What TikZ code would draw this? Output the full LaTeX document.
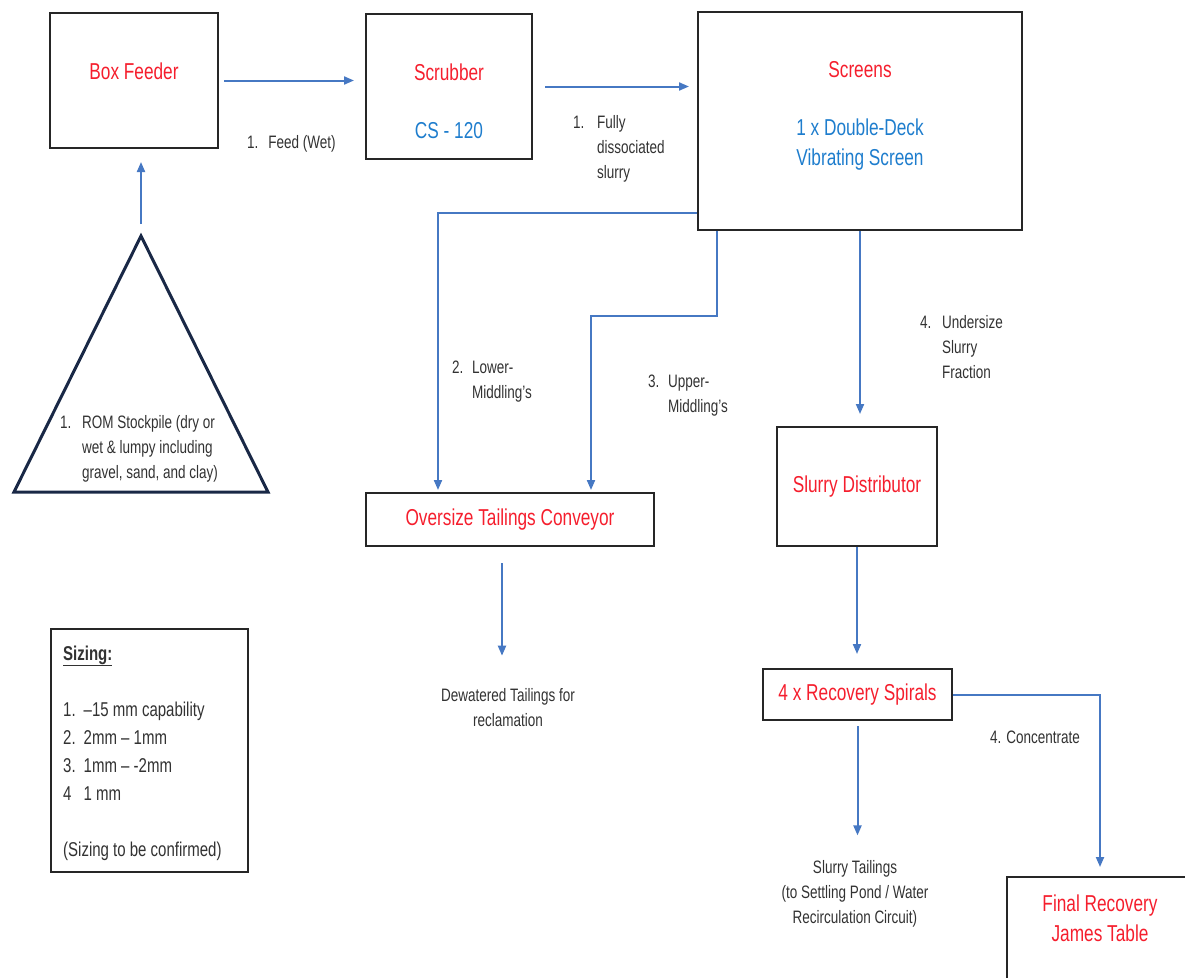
\documentclass[tikz,border=0pt]{standalone}
\usepackage{fontspec}
\setmainfont{Liberation Sans}[FakeStretch=0.75]
\usepackage{tikz}
\usetikzlibrary{positioning,arrows.meta,calc}
\definecolor{FlowBlue}{RGB}{70,120,195}
\definecolor{TitleRed}{RGB}{245,30,45}
\definecolor{SubBlue}{RGB}{30,125,205}
\definecolor{LabelGray}{RGB}{50,50,50}
\definecolor{PileNavy}{RGB}{25,40,70}
\tikzset{
  unitbox/.style={rectangle, draw=black!85, line width=2pt, inner sep=0pt},
  ttl/.style={text=TitleRed, font=\fontsize{23}{30}\selectfont, align=center},
  subttl/.style={text=SubBlue, font=\fontsize{23}{30}\selectfont, align=center},
  lbl/.style={text=LabelGray, font=\fontsize{18}{25}\selectfont, align=left, inner sep=0pt},
  pile/.style={draw=PileNavy, line width=3pt, line join=miter},
  flow/.style={-{Triangle[length=10pt,width=8pt]}, line width=2pt, draw=FlowBlue}
}

\begin{document}
\begin{tikzpicture}[x=1pt, y=-1pt]
  \useasboundingbox (0,0) rectangle (1185,977);
  % units
  \node[unitbox, minimum width=168pt, minimum height=135pt] (feeder) at (134,80.5) {};
  \node[ttl] (feeder-t) at (134,71) {Box Feeder};
  \node[unitbox, minimum width=166pt, minimum height=145pt] (scrub) at (449,86.5) {};
  \node[ttl] (scrub-t) at (449,72) {Scrubber};
  \node[subttl] (scrub-s) at (449,131) {CS - 120};
  \node[unitbox, minimum width=324pt, minimum height=218pt] (screens) at (860,121) {};
  \node[ttl] (screens-t) at (860,70) {Screens};
  \node[subttl] (screens-s) at (860,145) {1 x Double-Deck\\Vibrating Screen};
  \node[unitbox, ttl, minimum width=288pt, minimum height=53pt] (conveyor) at (510,519.5) {Oversize Tailings Conveyor};
  \node[unitbox, ttl, minimum width=160pt, minimum height=119pt] (distrib) at (857,486.5) {Slurry Distributor};
  \node[unitbox, ttl, minimum width=189pt, minimum height=51pt] (spirals) at (857.5,694.5) {4 x Recovery Spirals};
  \node[unitbox, minimum width=203pt, minimum height=123pt] (final) at (1108.5,938.5) {};
  \node[ttl] (final-t) at (1100,918) {Final Recovery\\James Table};

  % stockpile
  \coordinate (pile-top) at (141,236);
  \coordinate (pile-right) at (268,492);
  \coordinate (pile-left) at (14,492);
  \draw[pile] (pile-top) -- (pile-right) -- (pile-left) -- cycle;
  \node[lbl, anchor=base west] (pile-t) at (60,428) {\begin{tabular}[t]{@{}l@{\hspace{10.7pt}}l@{}}1. & ROM Stockpile (dry or\\ & wet \& lumpy including\\ & gravel, sand, and clay)\end{tabular}};

  % sizing
  \node[unitbox, minimum width=197pt, minimum height=243pt] (sizing) at (149.5,750.5) {};
  \node[lbl, font=\fontsize{20}{28}\selectfont, anchor=base west] (sizing-t) at (63,660) {\begin{tabular}[t]{@{}l@{\hspace{8pt}}l@{}}
    \multicolumn{2}{@{}l}{\textbf{\underline{Sizing:}}}\\
    \\
    1. & --15 mm capability\\
    2. & 2mm -- 1mm\\
    3. & 1mm -- -2mm\\
    4 & 1 mm\\
    \\
    \multicolumn{2}{@{}l}{(Sizing to be confirmed)}
  \end{tabular}};

  % outlets
  \node[lbl, align=center] (dewater) at (508,708) {Dewatered Tailings for\\reclamation};
  \node[lbl, align=center] (tailings) at (855,894) {Slurry Tailings\\(to Settling Pond / Water\\Recirculation Circuit)};

  % flow labels
  \node[lbl, anchor=base west] (l-feed) at (247,148) {1.\hspace{10pt}Feed (Wet)};
  \node[lbl, anchor=base west] (l-slurry) at (573,128) {\begin{tabular}[t]{@{}l@{\hspace{12.7pt}}l@{}}1. & Fully\\ & dissociated\\ & slurry\end{tabular}};
  \node[lbl, anchor=base west] (l-lower) at (452,373) {\begin{tabular}[t]{@{}l@{\hspace{8.7pt}}l@{}}2. & Lower-\\ & Middling's\end{tabular}};
  \node[lbl, anchor=base west] (l-upper) at (648,387) {\begin{tabular}[t]{@{}l@{\hspace{8.7pt}}l@{}}3. & Upper-\\ & Middling's\end{tabular}};
  \node[lbl, anchor=base west] (l-under) at (920,328) {\begin{tabular}[t]{@{}l@{\hspace{10.7pt}}l@{}}4. & Undersize\\ & Slurry\\ & Fraction\end{tabular}};
  \node[lbl, anchor=base west] (l-conc) at (990,743) {4. Concentrate};

  % connectors
  \draw[flow, shorten >=13pt] ([yshift=12pt]pile-top) -- (pile-top |- feeder.south);
  \draw[flow, shorten <=5pt, shorten >=11pt] (feeder.east) -- (scrub.west |- feeder.east);
  \draw[flow, shorten <=12pt, shorten >=8pt] (scrub.east) -- (screens.west |- scrub.east);
  \draw[flow, shorten >=2pt] ([yshift=18pt]screens.south west) -| ([xshift=-72pt]conveyor.north);
  \draw[flow, shorten >=2pt] ([xshift=20pt]screens.south west) -- ++(0,85) -| ([xshift=81pt]conveyor.north);
  \draw[flow, shorten >=12pt] (screens.south) -- (screens.south |- distrib.north);
  \draw[flow, shorten <=16pt, shorten >=33pt] ([xshift=-8pt]conveyor.south) -- ([xshift=-8pt]conveyor.south |- dewater.north);
  \draw[flow, shorten >=14pt] (distrib.south) -- (distrib.south |- spirals.north);
  \draw[flow, shorten <=5pt, shorten >=25pt] (spirals.south) -- (spirals.south |- tailings.north);
  \draw[flow, shorten >=9pt] (spirals.east) -| ([xshift=-8.5pt]final.north);
\end{tikzpicture}
\end{document}
